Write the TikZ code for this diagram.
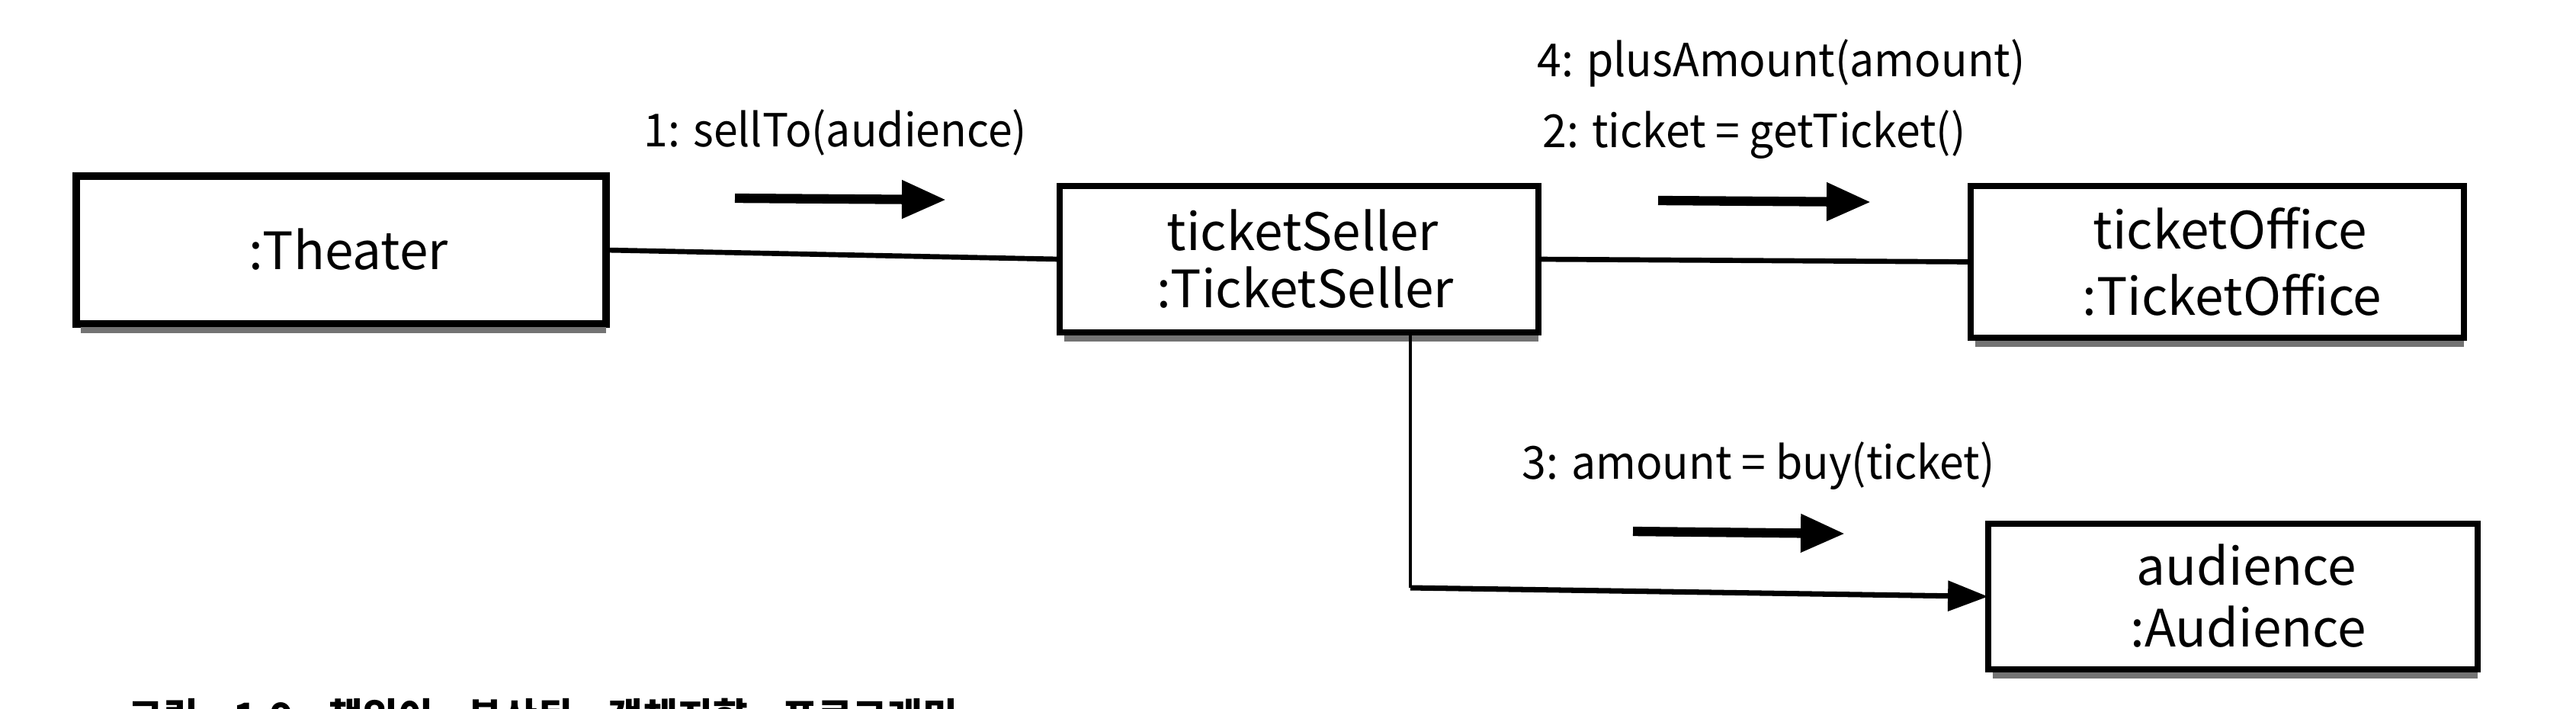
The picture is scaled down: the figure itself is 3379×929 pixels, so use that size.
\documentclass[tikz,border=0pt]{standalone}
\usepackage{fontspec}
\newfontfamily\dgfont{Noto Sans CJK KR}
\newfontfamily\dgcond[FakeStretch=0.955]{Noto Sans CJK KR}
\usetikzlibrary{arrows.meta,calc}
\begin{document}
\begin{tikzpicture}[x=0.01cm,y=-0.01cm,
  box/.style={draw=black, rectangle, inner sep=0pt, outer sep=0pt, line width=2.4pt},
  boxtext/.style={anchor=base, inner sep=0pt, font=\dgfont\fontsize{19.2}{23}\selectfont},
  msg/.style={anchor=base west, inner sep=0pt, font=\dgcond\fontsize{17}{21}\selectfont},
  link/.style={line width=1.9pt},
  thinlink/.style={line width=1.1pt},
  msgarrow/.style={line width=3.5pt, -{Triangle[length=16.5pt,width=13.5pt]}},
  shadowstrip/.style={fill=black!55},
]
\useasboundingbox (0,0) rectangle (3379,929);
\clip (0,0) rectangle (3379,929);
\fill[white] (0,0) rectangle (3379,929);

% boxes
\node[box, line width=2.9pt, minimum width=6.95cm, minimum height=1.94cm] (th) at (447.5,328) {};
\node[box, minimum width=6.28cm, minimum height=1.92cm] (ts) at (1704,340) {};
\node[box, minimum width=6.47cm, minimum height=1.99cm] (to) at (2908.5,343.5) {};
\node[box, minimum width=6.42cm, minimum height=1.91cm] (au) at (2929,782.5) {};

% bottom shadows
\foreach \b in {th,ts,to,au}{
  \fill[shadowstrip] ($(\b.south west)+(6,4)$) rectangle ($(\b.south east)+(0,12)$);
}

% box texts
\node[boxtext] (thl) at (457,353) {:Theater};
\node[boxtext] (tsl1) at (1709,328) {ticketSeller};
\node[boxtext] (tsl2) at (1712,403) {:TicketSeller};
\node[boxtext] (tol1) at (2925,326) {ticketOffice};
\node[boxtext] (tol2) at (2928,413) {:TicketOffice};
\node[boxtext] (aul1) at (2947,767) {audience};
\node[boxtext] (aul2) at (2949,848) {:Audience};

% links
\draw[link] (th.east) -- (ts.west);
\draw[link] (ts.east) -- (to.west);
\coordinate (corner) at (1850,771);
\draw[thinlink] (corner |- ts.south) -- (corner);
\draw[line width=2pt, -{Triangle[length=15pt,width=11pt]}] (corner) -- (au.west);

% messages
\node[msg] (m1) at (844,192) {1: sellTo(audience)};
\node[msg] (m4) at (2016,100) {4: plusAmount(amount)};
\node[msg] (m2) at (2023,193) {2: ticket = getTicket()};
\node[msg] (m3) at (1996,628) {3: amount = buy(ticket)};

\coordinate (a1s) at (964,260); \coordinate (a1e) at (1241,262);
\coordinate (a2s) at (2175,263); \coordinate (a2e) at (2454,265);
\coordinate (a3s) at (2142,697); \coordinate (a3e) at (2420,700);
\draw[msgarrow] (a1s) -- (a1e);
\draw[msgarrow] (a2s) -- (a2e);
\draw[msgarrow] (a3s) -- (a3e);

% caption (cut off at the bottom edge, as in the reference)
\node[anchor=base west, inner sep=0pt, font=\dgfont\bfseries\fontsize{14.2}{16}\selectfont] (cap) at (168,958)
  {\makebox[10.87cm][s]{그림 1.9 책임이 분산된 객체지향 프로그래밍}};
\end{tikzpicture}
\end{document}
